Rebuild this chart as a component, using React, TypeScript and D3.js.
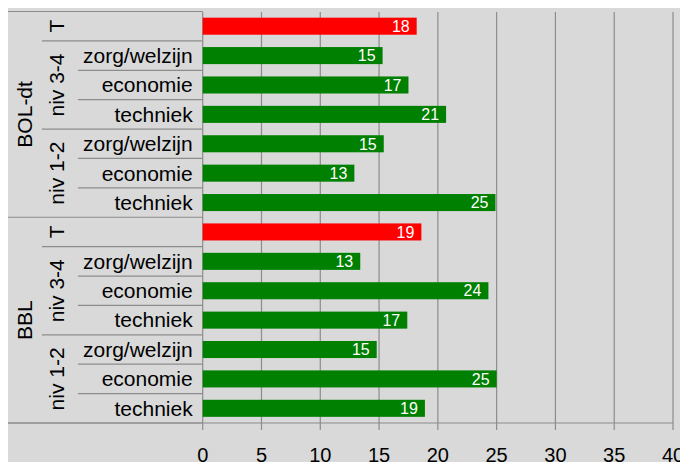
import React from "react";
import * as d3 from "d3";

// Rows top to bottom
const rowKeys = [
  "BOL-dt|T|", "BOL-dt|niv 3-4|zorg/welzijn", "BOL-dt|niv 3-4|economie", "BOL-dt|niv 3-4|techniek",
  "BOL-dt|niv 1-2|zorg/welzijn", "BOL-dt|niv 1-2|economie", "BOL-dt|niv 1-2|techniek",
  "BBL|T|", "BBL|niv 3-4|zorg/welzijn", "BBL|niv 3-4|economie", "BBL|niv 3-4|techniek",
  "BBL|niv 1-2|zorg/welzijn", "BBL|niv 1-2|economie", "BBL|niv 1-2|techniek",
];
const values = [18.2, 15.3, 17.5, 20.7, 15.4, 12.9, 24.9, 18.6, 13.4, 24.3, 17.4, 14.8, 25.0, 18.9];
const valueLabels = ["18", "15", "17", "21", "15", "13", "25", "19", "13", "24", "17", "15", "25", "19"];
const isTotal = [true, false, false, false, false, false, false, true, false, false, false, false, false, false];
const level1Groups = [
  { name: "BOL-dt", start: 0, end: 7 },
  { name: "BBL", start: 7, end: 14 },
];
const level2Groups = [
  { name: "T", start: 0, end: 1 },
  { name: "niv 3-4", start: 1, end: 4 },
  { name: "niv 1-2", start: 4, end: 7 },
  { name: "T", start: 7, end: 8 },
  { name: "niv 3-4", start: 8, end: 11 },
  { name: "niv 1-2", start: 11, end: 14 },
];
const xTicks = [0, 5, 10, 15, 20, 25, 30, 35, 40];

const W = 680;
const H = 454;
const left = 194.7;
const right = 665;
const top = 3.5;
const bottom = 415;
const col1 = 0;
const col2 = 34;
const col3 = 70;
const font = "'Liberation Sans', Arial, sans-serif";
const lineColor = "#8c8c8c";
const catSize = 21;

export default function App() {
  const x = d3.scaleLinear().domain([0, 40]).range([left, right]);
  const y = d3.scaleBand<string>().domain(rowKeys).range([top, bottom]).paddingInner(0.42).paddingOuter(0.21);
  const step = y.step();
  const rowTop = (i: number) => top + i * step;

  return (
    <svg width={W} height={H} style={{ display: "block", fontFamily: font }}>
      <rect x={0} y={0} width={W} height={H} fill="#d9d9d9" />
      {/* grid lines */}
      {xTicks.map((t) => (
        <line key={"g" + t} x1={x(t)} x2={x(t)} y1={top + 0.5} y2={bottom + 7} stroke={lineColor} strokeWidth={1.2} />
      ))}
      {/* bottom axis line */}
      <line x1={0} x2={x(40)} y1={bottom} y2={bottom} stroke={lineColor} strokeWidth={1.2} />
      {/* tick labels */}
      {xTicks.map((t) => (
        <text key={"t" + t} x={x(t)} y={454} textAnchor="middle" fontSize={20} fill="#000">
          {t}
        </text>
      ))}
      {/* category table lines */}
      <line x1={0} x2={left} y1={top} y2={top} stroke={lineColor} strokeWidth={1.2} />
      {level1Groups.map((g, i) => (
        <line key={"l1" + i} x1={0} x2={left} y1={rowTop(g.end)} y2={rowTop(g.end)} stroke={lineColor} strokeWidth={1.2} />
      ))}
      {level2Groups.map((g, i) =>
        g.end % 7 !== 0 ? (
          <line key={"l2" + i} x1={col2} x2={left} y1={rowTop(g.end)} y2={rowTop(g.end)} stroke={lineColor} strokeWidth={1.2} />
        ) : null
      )}
      {level2Groups.map((g) =>
        d3.range(g.start + 1, g.end).map((r) => (
          <line key={"l3" + r} x1={col3} x2={left} y1={rowTop(r)} y2={rowTop(r)} stroke={lineColor} strokeWidth={1.2} />
        ))
      )}
      {/* level-1 labels */}
      {level1Groups.map((g, i) => {
        const cy = (rowTop(g.start) + rowTop(g.end)) / 2;
        const cx = col1 + 23.7;
        return (
          <text key={"t1" + i} transform={`translate(${cx},${cy}) rotate(-90)`} textAnchor="middle" fontSize={catSize} fill="#000">
            {g.name}
          </text>
        );
      })}
      {/* level-2 labels */}
      {level2Groups.map((g, i) => {
        const cy = (rowTop(g.start) + rowTop(g.end)) / 2;
        const cx = col2 + 21.5;
        return (
          <text key={"t2" + i} transform={`translate(${cx},${cy}) rotate(-90)`} textAnchor="middle" fontSize={catSize} fill="#000">
            {g.name}
          </text>
        );
      })}
      {/* level-3 labels */}
      {rowKeys.map((k, i) => {
        const name = k.split("|")[2];
        if (!name) return null;
        return (
          <text key={"t3" + i} x={left - 10} y={rowTop(i) + step / 2} dy="0.35em" textAnchor="end" fontSize={catSize} fill="#000">
            {name}
          </text>
        );
      })}
      {/* bars */}
      {rowKeys.map((k, i) => (
        <rect
          key={"b" + i}
          x={x(0)}
          y={y(k)!}
          width={x(values[i]) - x(0)}
          height={y.bandwidth()}
          fill={isTotal[i] ? "#ff0000" : "#008000"}
        />
      ))}
      {rowKeys.map((k, i) => (
        <text
          key={"v" + i}
          x={x(values[i]) - 7}
          y={y(k)! + y.bandwidth() / 2}
          dy="0.36em"
          textAnchor="end"
          fontSize={16}
          fill="#fff"
        >
          {valueLabels[i]}
        </text>
      ))}
    </svg>
  );
}
